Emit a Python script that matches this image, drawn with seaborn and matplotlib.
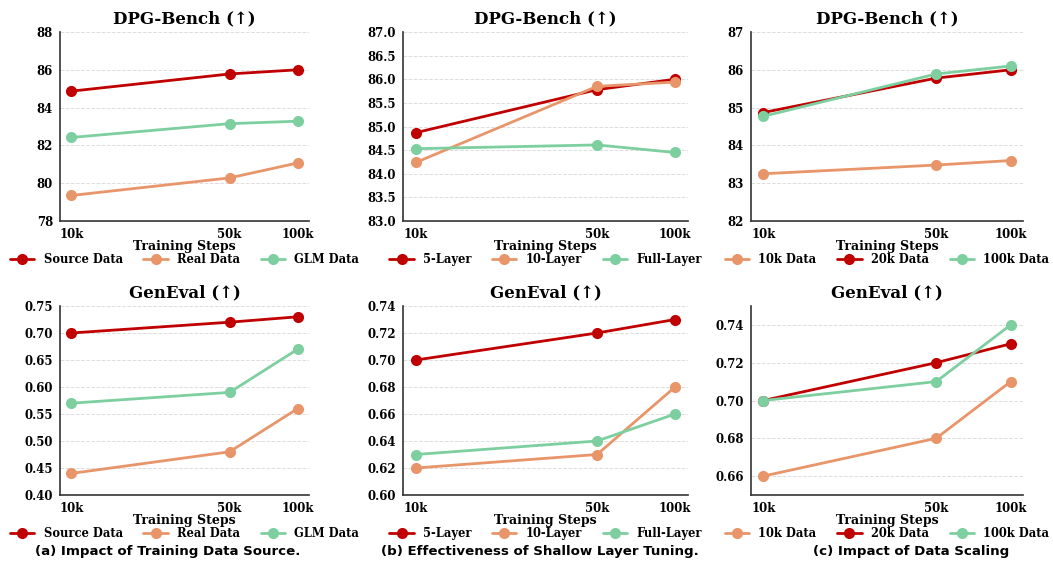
import pandas as pd
import numpy as np
import seaborn as sns
import matplotlib.pyplot as plt
from matplotlib.ticker import FixedLocator, NullLocator

steps = [10000, 50000, 100000]
step_labels = ['10k', '50k', '100k']

# (a) training data source
src_names = ['Source Data', 'Real Data', 'GLM Data']
src_dpg = [[84.87, 85.78, 86.0], [79.35, 80.28, 81.07], [82.42, 83.15, 83.28]]
src_gen = [[0.70, 0.72, 0.73], [0.44, 0.48, 0.56], [0.57, 0.59, 0.67]]

# (b) shallow layer tuning
layer_names = ['5-Layer', '10-Layer', 'Full-Layer']
layer_dpg = [[84.87, 85.78, 86.0], [84.24, 85.85, 85.94], [84.53, 84.61, 84.45]]
layer_gen = [[0.70, 0.72, 0.73], [0.62, 0.63, 0.68], [0.63, 0.64, 0.66]]

# (c) data scaling
scale_names = ['10k Data', '20k Data', '100k Data']
scale_dpg = [[83.25, 83.48, 83.6], [84.87, 85.78, 86.0], [84.77, 85.89, 86.1]]
scale_gen = [[0.66, 0.68, 0.71], [0.70, 0.72, 0.73], [0.70, 0.71, 0.74]]

RED = '#c00000'
ORANGE = '#e8956a'
GREEN = '#7dcfa0'

captions = ['(a) Impact of Training Data Source.',
            '(b) Effectiveness of Shallow Layer Tuning.',
            '(c) Impact of Data Scaling']

sns.set_style('white')
plt.rcParams['font.family'] = ['DejaVu Serif']
plt.rcParams['font.weight'] = 'bold'
plt.rcParams['text.color'] = 'black'
plt.rcParams['axes.labelcolor'] = 'black'
plt.rcParams['xtick.color'] = 'black'
plt.rcParams['ytick.color'] = 'black'


def to_df(names, vals):
    rows = []
    for n, v in zip(names, vals):
        for s, y in zip(steps, v):
            rows.append({'step': s, 'value': y, 'series': n})
    return pd.DataFrame(rows)


panels = [
    (src_names, src_dpg, src_gen, [RED, ORANGE, GREEN],
     (78, 88, np.arange(78, 88.1, 2), '{:.0f}'), (0.40, 0.75, np.arange(0.40, 0.751, 0.05), '{:.2f}')),
    (layer_names, layer_dpg, layer_gen, [RED, ORANGE, GREEN],
     (83, 87, np.arange(83, 87.01, 0.5), '{:.1f}'), (0.60, 0.74, np.arange(0.60, 0.741, 0.02), '{:.2f}')),
    (scale_names, scale_dpg, scale_gen, [ORANGE, RED, GREEN],
     (82, 87, np.arange(82, 87.1, 1), '{:.0f}'), (0.65, 0.75, np.arange(0.66, 0.741, 0.02), '{:.2f}')),
]

fig = plt.figure(figsize=(10.53, 5.65), dpi=100)
W, H = 1053, 565
lefts = [60, 403, 751]
rights = [309, 688, 1023]
tops = [32, 306]
bottoms = [221, 495]
centers = [168, 540, 911]

for c, (names, dpg, gen, cols, ylim_d, ylim_g) in enumerate(panels):
    for r, (vals, lim, title) in enumerate([(dpg, ylim_d, 'DPG-Bench (↑)'), (gen, ylim_g, 'GenEval (↑)')]):
        ax = fig.add_axes([lefts[c] / W, 1 - bottoms[r] / H,
                           (rights[c] - lefts[c]) / W, (bottoms[r] - tops[r]) / H])
        df = to_df(names, vals)
        sns.lineplot(data=df, x='step', y='value', hue='series', hue_order=names,
                     palette=cols, marker='o', markersize=8, markeredgewidth=0,
                     linewidth=2, ax=ax)
        ax.set_xscale('log')
        ax.xaxis.set_major_locator(FixedLocator(steps))
        ax.xaxis.set_minor_locator(NullLocator())
        ax.set_xticklabels(step_labels)
        ax.set_ylim(lim[0], lim[1])
        ax.set_yticks(lim[2])
        ax.set_yticklabels([lim[3].format(t) for t in lim[2]])
        ax.tick_params(axis='both', labelsize=8.5, length=3, width=1, pad=2)
        ax.tick_params(axis='both', which='both', direction='out')
        for lab in ax.get_xticklabels() + ax.get_yticklabels():
            lab.set_fontweight('bold')
        ax.grid(axis='y', linestyle='--', color='#dddddd', linewidth=0.7)
        ax.set_axisbelow(True)
        sns.despine(ax=ax)
        for sp in ['left', 'bottom']:
            ax.spines[sp].set_color('#333333')
            ax.spines[sp].set_linewidth(1.2)
        ax.set_title(title, fontsize=12, fontweight='bold', pad=6)
        ax.set_xlabel('Training Steps', fontsize=9, fontweight='bold', labelpad=-1)
        ax.set_ylabel('')
        ax.legend(loc='upper center', bbox_to_anchor=(0.5, -0.17), ncol=3, frameon=False,
                  prop={'weight': 'bold', 'size': 8.3}, handlelength=2.1, columnspacing=1.8,
                  handletextpad=0.8, borderaxespad=0, borderpad=0)
    fig.text(centers[c] / W, 1 - 551 / H, captions[c], ha='center', va='center',
             fontsize=9.6, fontweight='bold', family=['DejaVu Sans'])

fig.savefig('out.png', dpi=100)
